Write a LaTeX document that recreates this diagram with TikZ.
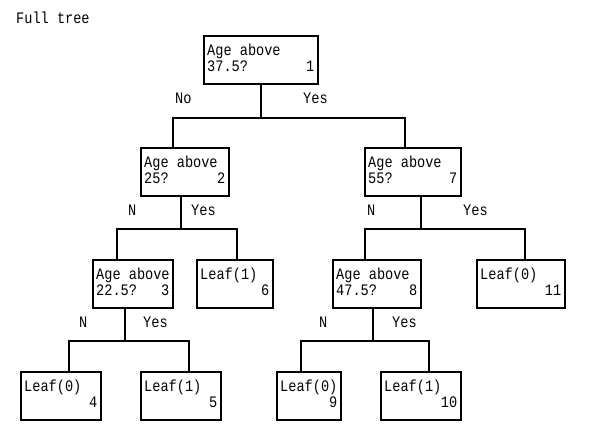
\documentclass[tikz,border=0pt]{standalone}
\usepackage{fontspec}
\newfontfamily\treefont{Liberation Mono}[FakeStretch=0.85]

\begin{document}
\begin{tikzpicture}[x=1pt,y=-1pt,
  box/.style={draw,line width=2pt,minimum height=48pt,inner sep=0pt,anchor=north west},
  txt/.style={anchor=base west,inner sep=0pt,font=\treefont\fontsize{16}{18}\selectfont},
  num/.style={anchor=base east,inner sep=0pt,font=\treefont\fontsize{16}{18}\selectfont},
  edge/.style={line width=2pt}]
\useasboundingbox (0,0) rectangle (593,442);

\node[txt] (title) at (16,23) {Full tree};

% boxes: name/left/top/width/line 1/line 2
\foreach \n/\x/\y/\w/\a/\b in {
  1/203/35/114/Age above/37.5?,
  2/140/147/88/Age above/25?,
  7/364/147/96/Age above/55?,
  3/92/259/80/Age above/22.5?,
  8/332/259/88/Age above/47.5?,
  6/196/259/76/Leaf(1)/,
  11/476/259/88/Leaf(0)/,
  4/20/371/80/Leaf(0)/,
  5/140/371/80/Leaf(1)/,
  9/276/371/64/Leaf(0)/,
  10/380/371/80/Leaf(1)/}{
  \node[box,minimum width=\w pt] (n\n) at (\x,\y) {};
  \node[txt] (t\n) at ([shift={(4,20)}]n\n.north west) {\a};
  \node[txt] (q\n) at ([shift={(4,36)}]n\n.north west) {\b};
  \node[num] (k\n) at ([shift={(-4.5,36)}]n\n.north east) {\n};
}

% connectors
\draw[edge] (n1.south) -- ++(0,33) coordinate (b1);
\draw[edge] ([xshift=-12]n2.north) |- (b1) -| ([xshift=-8]n7.north);
\draw[edge] ([xshift=-4]n2.south) -- ++(0,32) coordinate (b2);
\draw[edge] ([xshift=-16]n3.north) |- (b2) -| ([xshift=2]n6.north);
\draw[edge] ([xshift=8]n7.south) -- ++(0,32) coordinate (b7);
\draw[edge] ([xshift=-12]n8.north) |- (b7) -| ([xshift=4]n11.north);
\draw[edge] ([xshift=-8]n3.south) -- ++(0,32) coordinate (b3);
\draw[edge] ([xshift=8]n4.north) |- (b3) -| ([xshift=8]n5.north);
\draw[edge] ([xshift=-4]n8.south) -- ++(0,32) coordinate (b8);
\draw[edge] ([xshift=-8]n9.north) |- (b8) -| ([xshift=8]n10.north);

% branch labels
\node[txt] (no1) at (175,103) {No};
\node[txt] (yes1) at (303,103) {Yes};
\node[txt] (no2) at (128,215) {N};
\node[txt] (yes2) at (191,215) {Yes};
\node[txt] (no7) at (367,215) {N};
\node[txt] (yes7) at (463,215) {Yes};
\node[txt] (no3) at (79,327) {N};
\node[txt] (yes3) at (143,327) {Yes};
\node[txt] (no8) at (319,327) {N};
\node[txt] (yes8) at (392,327) {Yes};

\end{tikzpicture}
\end{document}
